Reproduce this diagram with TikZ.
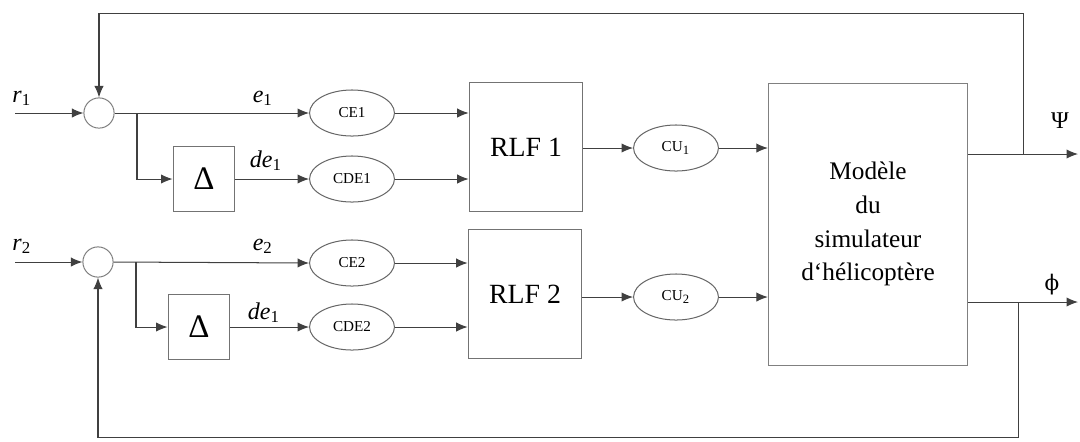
\documentclass[tikz,border=0pt]{standalone}
\usepackage{fontspec}
\setmainfont{Liberation Serif}
\newfontfamily\greekfont{DejaVu Serif}
\usetikzlibrary{arrows.meta,shapes.geometric}
\newcommand\sg[2]{\textit{#1}\textsubscript{#2}}

\begin{document}
\begin{tikzpicture}[x=0.0139cm, y=-0.0139cm, >={Latex[length=1.6mm,width=1.3mm]},
  line/.style={draw=black!75, line width=0.4pt},
  sum/.style={circle, draw=black!50, minimum size=0.42cm, inner sep=0pt},
  deltabox/.style={draw=black!55, minimum width=0.86cm, minimum height=0.9cm, font=\fontsize{13}{14}\selectfont},
  fuzz/.style={ellipse, draw=black!60, minimum width=1.18cm, minimum height=0.64cm, inner sep=0pt, font=\fontsize{6}{7}\selectfont},
  rlfbox/.style={draw=black!55, minimum width=1.58cm, minimum height=1.79cm, font=\fontsize{11}{13}\selectfont},
  sig/.style={font=\fontsize{9.5}{10}\selectfont, inner sep=1pt}]
  \useasboundingbox (0,0) rectangle (1080,441);

  % blocs
  \node[sum] (s1) at (99,113) {};
  \node[sum] (s2) at (98,262) {};
  \node[deltabox] (d1) at (204,179) {Δ};
  \node[deltabox] (d2) at (199,327) {Δ};
  \node[fuzz] (ce1) at (352,113) {CE1};
  \node[fuzz] (cde1) at (352,179) {CDE1};
  \node[fuzz] (ce2) at (352,263) {CE2};
  \node[fuzz] (cde2) at (352,327) {CDE2};
  \node[rlfbox] (rlf1) at (526,147) {RLF 1};
  \node[rlfbox] (rlf2) at (525,294) {RLF 2};
  \node[fuzz] (cu1) at (676,148) {CU\textsubscript{1}};
  \node[fuzz] (cu2) at (676,297) {CU\textsubscript{2}};
  \node[draw=black!50, minimum width=2.77cm, minimum height=3.92cm, align=center,
    font=\fontsize{10}{13.4}\selectfont] (mod) at (868,224)
    {Modèle\\du\\simulateur\\d`hélicoptère};

  % points
  \coordinate (r1in) at (15,113);
  \coordinate (r2in) at (15,262);
  \coordinate (b1) at (137,113);
  \coordinate (b2) at (136,262);
  \coordinate (psitap) at (1023,154);
  \coordinate (psiout) at (1078,154);
  \coordinate (phitap) at (1018,302);
  \coordinate (phiout) at (1078,302);
  \coordinate (top) at (99,13);
  \coordinate (bot) at (98,437);

  % boucle 1
  \draw[line,->] (r1in) -- (s1.west);
  \draw[line,->] (s1.east) -- (ce1.west);
  \draw[line,->] (b1) |- (d1.west);
  \draw[line,->] (d1.east) -- (cde1.west);
  \draw[line,->] (ce1.east) -- (ce1.east -| rlf1.west);
  \draw[line,->] (cde1.east) -- (cde1.east -| rlf1.west);
  \draw[line,->] (rlf1.east |- cu1.west) -- (cu1.west);
  \draw[line,->] (cu1.east) -- (cu1.east -| mod.west);

  % boucle 2
  \draw[line,->] (r2in) -- (s2.west);
  \draw[line,->] (s2.east) -- (ce2.west);
  \draw[line,->] (b2) |- (d2.west);
  \draw[line,->] (d2.east) -- (cde2.west);
  \draw[line,->] (ce2.east) -- (ce2.east -| rlf2.west);
  \draw[line,->] (cde2.east) -- (cde2.east -| rlf2.west);
  \draw[line,->] (rlf2.east |- cu2.west) -- (cu2.west);
  \draw[line,->] (cu2.east) -- (cu2.east -| mod.west);

  % sorties et retours
  \draw[line,->] (mod.east |- psiout) -- (psiout);
  \draw[line,->] (mod.east |- phiout) -- (phiout);
  \draw[line,->] (psitap) |- (top) -- (s1.north);
  \draw[line,->] (phitap) |- (bot) -- (s2.south);

  % etiquettes
  \node[sig] (lr1) at (22,98) {\sg{r}{1}};
  \node[sig] (lr2) at (22,246) {\sg{r}{2}};
  \node[sig] (le1) at (263,98) {\sg{e}{1}};
  \node[sig] (le2) at (263,246) {\sg{e}{2}};
  \node[sig] (lde1) at (266,161) {\sg{de}{1}};
  \node[sig] (lde2) at (264,313) {\sg{de}{1}};
  \node[sig] (lpsi) at (1060,121) {Ψ};
  \node[sig] (lphi) at (1052,285) {\greekfont\fontsize{8.5}{10}\selectfont ϕ};
\end{tikzpicture}
\end{document}
